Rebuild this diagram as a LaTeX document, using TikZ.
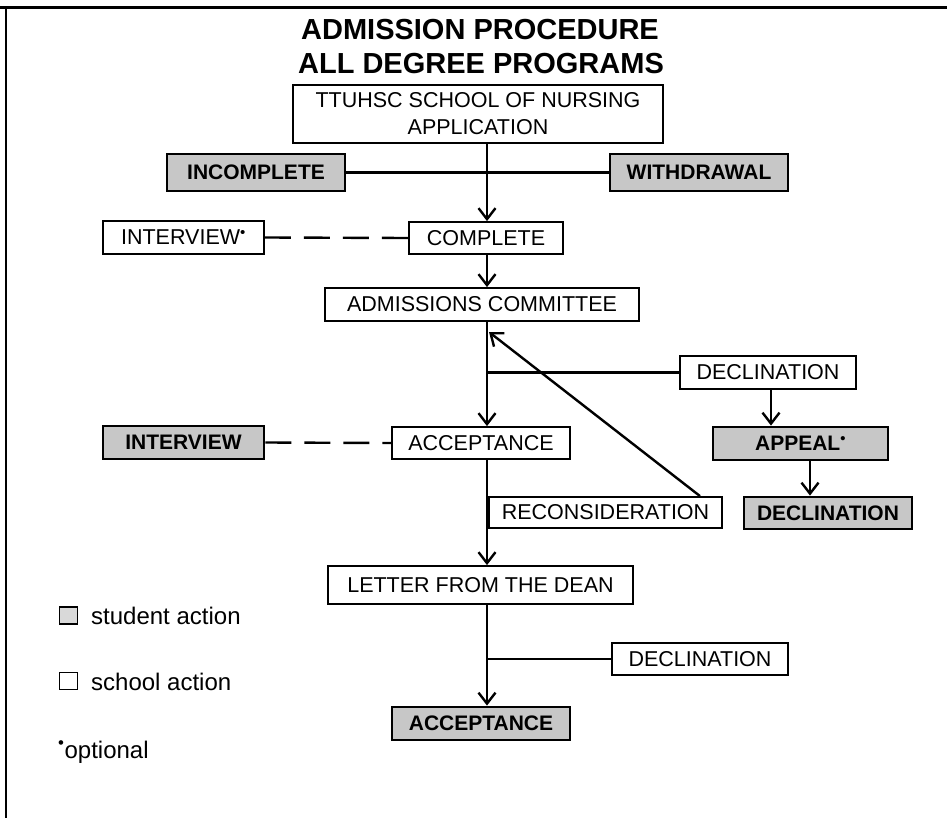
\documentclass[tikz,border=0pt]{standalone}
\usepackage{fontspec}
\setmainfont{Liberation Sans}
\usetikzlibrary{arrows.meta}
\begin{document}
\begin{tikzpicture}[x=1pt,y=-1pt,
  box/.style={draw,line width=1.8pt,inner sep=0pt,align=center,font=\fontsize{21.5}{27}\selectfont},
  sbox/.style={draw,line width=2.8pt,inner sep=0pt,fill=black!22,font=\bfseries\fontsize{21}{24}\selectfont},
  conn/.style={line width=2.4pt},
  arr/.style={conn,-{Straight Barb[length=11pt,width=17pt,line width=2.4pt]}},
  dsh/.style={conn,dash pattern=on 26pt off 13pt},
  lsq/.style={draw,line width=1.2pt,inner sep=0pt,minimum width=18pt,minimum height=17pt},
  legtext/.style={anchor=base west,inner sep=0pt,font=\fontsize{24}{26}\selectfont},
  titletext/.style={anchor=base,inner sep=0pt,font=\bfseries\fontsize{29}{32}\selectfont}
]
\useasboundingbox (0,0) rectangle (947,818);
\fill[white] (0,0) rectangle (947,818);
% frame
\draw[line width=3pt] (0,8) -- (947,8);
\draw[line width=2.6pt] (6,8) -- (6,818);
% title
\node[titletext] (title1) at (480,40) {ADMISSION PROCEDURE};
\node[titletext] (title2) at (481,74) {ALL DEGREE PROGRAMS};
% nodes
\node[box,minimum width=370pt,minimum height=58pt] (app) at (478,114) {TTUHSC SCHOOL OF NURSING\\APPLICATION};
\node[sbox,minimum width=178pt,minimum height=37pt] (inc) at (256,172.5) {INCOMPLETE};
\node[sbox,minimum width=178pt,minimum height=37pt] (wd) at (699,172.5) {WITHDRAWAL};
\node[box,minimum width=161pt,minimum height=33pt] (iv1) at (183.5,237.5) {INTERVIEW\textsuperscript{•}};
\node[box,minimum width=154pt,minimum height=32pt] (comp) at (486,238) {COMPLETE};
\node[box,minimum width=314pt,minimum height=33pt] (adm) at (482,304.5) {ADMISSIONS COMMITTEE};
\node[box,minimum width=176pt,minimum height=33pt] (dec1) at (768,372.5) {DECLINATION};
\node[box,minimum width=178pt,minimum height=32pt] (acc1) at (481,443) {ACCEPTANCE};
\node[sbox,minimum width=161pt,minimum height=33pt] (iv2) at (183.5,442.5) {INTERVIEW};
\node[sbox,minimum width=175pt,minimum height=33pt] (appeal) at (800.5,443.5) {APPEAL\textsuperscript{•}};
\node[box,minimum width=233pt,minimum height=31pt] (recon) at (605.5,512.5) {RECONSIDERATION};
\node[sbox,minimum width=168pt,minimum height=32pt] (dec2) at (828,513) {DECLINATION};
\node[box,minimum width=305pt,minimum height=38pt] (letter) at (480.5,585) {LETTER FROM THE DEAN};
\node[box,minimum width=176pt,minimum height=32pt] (dec3) at (700,659) {DECLINATION};
\node[sbox,minimum width=178pt,minimum height=33pt] (acc2) at (481,723.5) {ACCEPTANCE};
% helper coordinates
\coordinate (sp) at (487,0);
\coordinate (d1x) at (771,0);
\coordinate (apx) at (810,0);
\coordinate (rtop) at (700,0);
\coordinate (rtip) at (489,332);
% connectors
\draw[conn] (inc.east) -- (wd.west);
\draw[arr] (app.south -| sp) -- (comp.north -| sp);
\draw[dsh] (iv1.east) -- (comp.west);
\draw[arr] (comp.south -| sp) -- (adm.north -| sp);
\draw[arr] (adm.south -| sp) -- (acc1.north -| sp);
\draw[conn] (dec1.west) -- (dec1.west -| sp);
\draw[arr] (dec1.south -| d1x) -- (appeal.north -| d1x);
\draw[arr] (appeal.south -| apx) -- (dec2.north -| apx);
\draw[dsh] (iv2.east) -- (acc1.west);
\draw[arr] (recon.north -| rtop) -- (rtip);
\draw[arr] (acc1.south -| sp) -- (letter.north -| sp);
\draw[arr] (letter.south -| sp) -- (acc2.north -| sp);
\draw[conn] (dec3.west) -- (dec3.west -| sp);
% legend
\node[lsq,fill=black!15] (sq1) at (68.5,615.5) {};
\node[legtext] (lt1) at (91,624) {student action};
\node[lsq] (sq2) at (68.5,681) {};
\node[legtext] (lt2) at (91,690) {school action};
\node[legtext] (lt3) at (58,758) {\textsuperscript{•}optional};
\end{tikzpicture}
\end{document}
